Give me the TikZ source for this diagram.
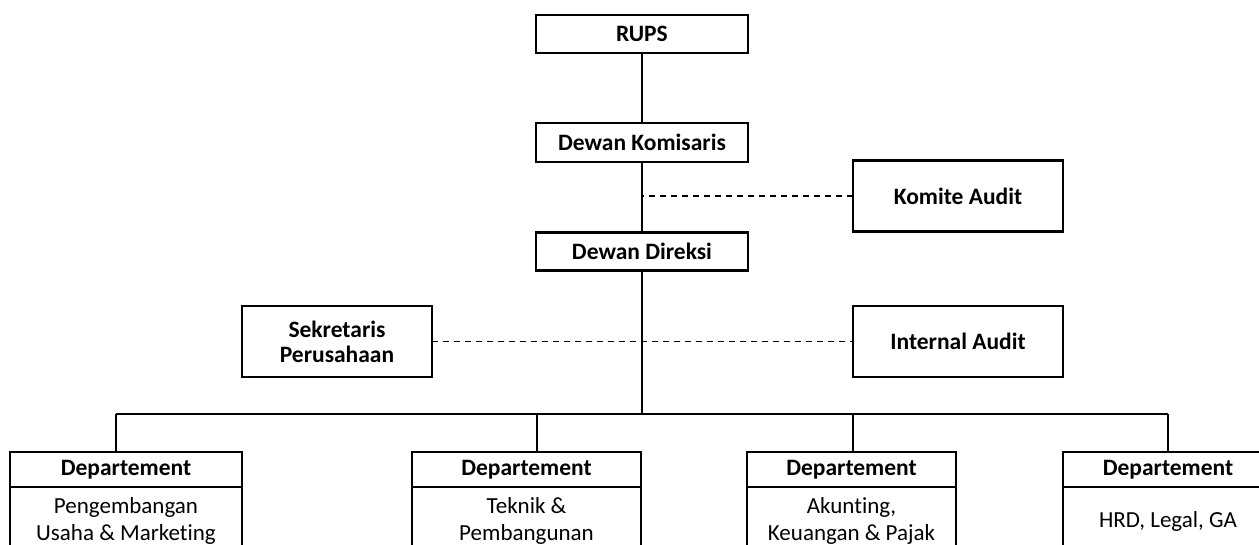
\documentclass[tikz,border=0pt]{standalone}
\usepackage{fontspec}
\setmainfont{Carlito}[Ligatures=NoCommon]
\begin{document}
\begin{tikzpicture}[x=1pt,y=-1pt,
  line width=2.7pt,
  box/.style={draw, rectangle, inner sep=0pt, outer sep=0pt},
  topbox/.style={box, minimum width=212pt, minimum height=38pt, font=\fontsize{23.5}{26}\selectfont\bfseries},
  sidebox/.style={box, minimum height=71pt, align=center, font=\fontsize{23.5}{25}\selectfont\bfseries},
  headbox/.style={box, minimum height=35pt, font=\fontsize{23.5}{26}\selectfont\bfseries},
  bodybox/.style={box, minimum height=68pt, align=center, font=\fontsize{23}{27}\selectfont},
  link/.style={line width=2.7pt},
  dashlink/.style={line width=1.2pt, dash pattern=on 6pt off 5pt}]
\useasboundingbox (0,0) rectangle (1259,545);
\clip (0,0) rectangle (1259,545);
\fill[white] (0,0) rectangle (1259,545);

\node[topbox] (rups) at (642,34) {RUPS};
\node[topbox, minimum height=39pt] (kom) at (642,142.5) {Dewan Komisaris};
\node[topbox] (dir) at (642,251.5) {Dewan Direksi};
\node[sidebox, minimum width=210pt] (ka) at (958,196) {Komite Audit};
\node[sidebox, minimum width=190pt] (sek) at (337,341.5) {Sekretaris\\Perusahaan};
\node[sidebox, minimum width=210pt] (ia) at (958,341.5) {Internal Audit};

\node[headbox, minimum width=232pt] (h1) at (126,469.5) {Departement};
\node[bodybox, minimum width=232pt, anchor=north] (b1) at (h1.south) {Pengembangan\\Usaha \& Marketing};
\node[headbox, minimum width=229pt] (h2) at (526.5,469.5) {Departement};
\node[bodybox, minimum width=229pt, anchor=north] (b2) at (h2.south) {Teknik \&\\Pembangunan};
\node[headbox, minimum width=209pt] (h3) at (851.5,469.5) {Departement};
\node[bodybox, minimum width=209pt, anchor=north] (b3) at (h3.south) {Akunting,\\Keuangan \& Pajak};
\node[headbox, minimum width=210pt] (h4) at (1168,469.5) {Departement};
\node[bodybox, minimum width=210pt, anchor=north] (b4) at (h4.south) {HRD, Legal, GA};

\coordinate (bus) at (642,414);
\coordinate (t1) at (116,414);
\coordinate (t2) at (537,414);
\coordinate (t3) at (853,414);
\coordinate (t4) at (1168,414);

\draw[link] (rups) -- (kom);
\draw[link] (kom) -- (dir);
\draw[link] (dir.south) -- (bus);
\draw[link] (t1) -- (t4);
\draw[link] (t1) -- (t1 |- h1.north);
\draw[link] (t2) -- (t2 |- h2.north);
\draw[link] (t3) -- (t3 |- h3.north);
\draw[link] (t4) -- (t4 |- h4.north);

\draw[dashlink] (ka.west) -- (ka.west -| kom.south);
\draw[dashlink] (sek.east) -- (ia.west);
\end{tikzpicture}
\end{document}
